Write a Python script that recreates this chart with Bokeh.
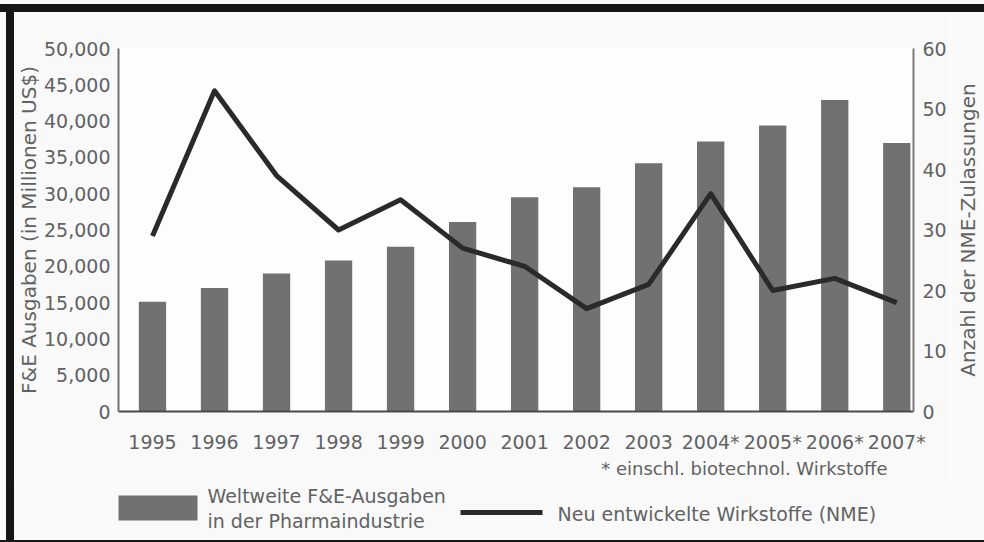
from bokeh.core.properties import value
from bokeh.embed import file_html
from bokeh.layouts import column, row
from bokeh.models import (ColumnDataSource, Div, FixedTicker, LinearAxis,
                          NumeralTickFormatter, Range1d, Title)
from bokeh.plotting import figure
from bokeh.resources import INLINE

# Years (2004-2007 include biotech compounds, marked with *)
years = ["1995", "1996", "1997", "1998", "1999", "2000", "2001",
         "2002", "2003", "2004*", "2005*", "2006*", "2007*"]
# Worldwide pharma R&D spending, million US$
rd_spending = [15100, 17000, 19000, 20800, 22700, 26100, 29500,
               30900, 34200, 37200, 39400, 42900, 37000]
# Newly approved molecular entities (NME) per year
nme_count = [29, 53, 39, 30, 35, 27, 24, 17, 21, 36, 20, 22, 18]

left_ticks = [0, 5000, 10000, 15000, 20000, 25000, 30000, 35000, 40000, 45000, 50000]
right_ticks = [0, 10, 20, 30, 40, 50, 60]

bar_label = ["Weltweite F&E-Ausgaben", "in der Pharmaindustrie"]
line_label = "Neu entwickelte Wirkstoffe (NME)"

FONT = "DejaVu Sans"
TEXT = "#626262"
BAR = "#717171"
LINE = "#2a2a2a"
BG = "#f9f9f9"
BLACK = "#161616"

pos = list(range(len(years)))
src = ColumnDataSource(dict(x=pos, year=years, spend=rd_spending, nme=nme_count))

# ---- main chart -------------------------------------------------------------
p = figure(width=936, height=468,
           x_range=Range1d(-0.548, 12.27), y_range=Range1d(0, 50000),
           output_backend="svg", toolbar_location=None,
           min_border_left=104, min_border_right=37,
           min_border_top=36, min_border_bottom=69)
p.extra_y_ranges = {"nme": Range1d(0, 60)}
p.background_fill_color = "#fdfdfd"
p.border_fill_color = BG
p.outline_line_color = None
p.xgrid.visible = False
p.ygrid.visible = False

p.vbar(x="x", top="spend", width=0.44, source=src,
       fill_color=BAR, line_color=None)
p.line(x="x", y="nme", source=src, y_range_name="nme",
       line_width=5, line_color=LINE, line_join="round")

# Bottom axis: year labels
xa = p.xaxis[0]
xa.ticker = FixedTicker(ticks=pos)
xa.major_label_overrides = {i: y for i, y in enumerate(years)}
xa.major_tick_in = 0
xa.major_tick_out = 0
xa.minor_tick_line_color = None
xa.major_label_standoff = 19
xa.axis_line_color = "#4a4a4a"
xa.axis_line_width = 2
xa.major_label_text_font = FONT
xa.major_label_text_font_size = "19px"
xa.major_label_text_color = TEXT

# Left axis: R&D spending
ya = p.yaxis[0]
ya.ticker = FixedTicker(ticks=left_ticks)
ya.formatter = NumeralTickFormatter(format="0,0")
ya.major_tick_in = 0
ya.major_tick_out = 0
ya.minor_tick_line_color = None
ya.major_label_standoff = 8
ya.axis_line_color = "#707070"
ya.axis_line_width = 2
ya.major_label_text_font = FONT
ya.major_label_text_font_size = "19px"
ya.major_label_text_color = TEXT
ya.axis_label = "F&E Ausgaben (in Millionen US$)"
ya.axis_label_text_font = FONT
ya.axis_label_text_font_size = "20px"
ya.axis_label_text_font_style = "normal"
ya.axis_label_text_color = TEXT
ya.axis_label_standoff = 0

# Right axis: NME approvals (its title sits in the strip figure)
ra = LinearAxis(y_range_name="nme", ticker=FixedTicker(ticks=right_ticks))
ra.major_tick_in = 0
ra.major_tick_out = 0
ra.minor_tick_line_color = None
ra.major_label_standoff = 9
ra.axis_line_color = "#7a7a7a"
ra.axis_line_width = 2
ra.major_label_text_font = FONT
ra.major_label_text_font_size = "19px"
ra.major_label_text_color = TEXT
p.add_layout(ra, "right")

# Footnote under the year labels
foot = Title(text="* einschl. biotechnol. Wirkstoffe", align="right", offset=26,
             standoff=0, text_font=FONT, text_font_size="18px",
             text_font_style="normal", text_color=TEXT)
p.add_layout(foot, "below")

# ---- right strip: axis title reading bottom to top --------------------------
strip = figure(width=34, height=468, output_backend="svg", toolbar_location=None,
               x_axis_type=None, y_axis_type=None,
               min_border_left=31, min_border_right=0,
               min_border_top=36, min_border_bottom=44)
strip.background_fill_color = BG
strip.border_fill_color = BG
strip.outline_line_color = None
strip.xgrid.visible = False
strip.ygrid.visible = False
strip.add_layout(Title(text="Anzahl der NME-Zulassungen", align="center",
                       standoff=7, text_font=FONT, text_font_size="20px",
                       text_font_style="normal", text_color=TEXT), "left")

# ---- legend row (pixel coordinates) -----------------------------------------
leg = figure(width=970, height=60, output_backend="svg", toolbar_location=None,
             x_range=Range1d(0, 970), y_range=Range1d(0, 60),
             x_axis_type=None, y_axis_type=None,
             min_border_left=0, min_border_right=0,
             min_border_top=0, min_border_bottom=0)
leg.background_fill_color = BG
leg.border_fill_color = BG
leg.outline_line_color = None
leg.xgrid.visible = False
leg.ygrid.visible = False

leg.quad(left=[104], right=[183], bottom=[20], top=[45],
         fill_color=BAR, line_color=None)
leg.text(x=[193, 193], y=[45, 20], text=bar_label,
         text_font=value(FONT), text_font_size=value("19px"), text_color=TEXT,
         text_baseline="middle", text_align="left")
leg.segment(x0=[446], y0=[28], x1=[528], y1=[28],
            line_width=5, line_color=LINE)
leg.text(x=[543], y=[27], text=[line_label],
         text_font=value(FONT), text_font_size=value("19px"), text_color=TEXT,
         text_baseline="middle", text_align="left")


# Black frame bands around the chart
def band(w, h, color):
    return Div(text="", width=w, height=h, margin=0,
               styles={"background-color": color})


layout = column(
    band(984, 4, BG),
    band(984, 8, BLACK),
    row(band(6, 468, BG), band(8, 468, BLACK), p, strip, spacing=0),
    row(band(6, 60, BG), band(8, 60, BLACK), leg, spacing=0),
    band(984, 2, BLACK),
    spacing=0,
)

open("out.html", "w").write(file_html(layout, INLINE))
